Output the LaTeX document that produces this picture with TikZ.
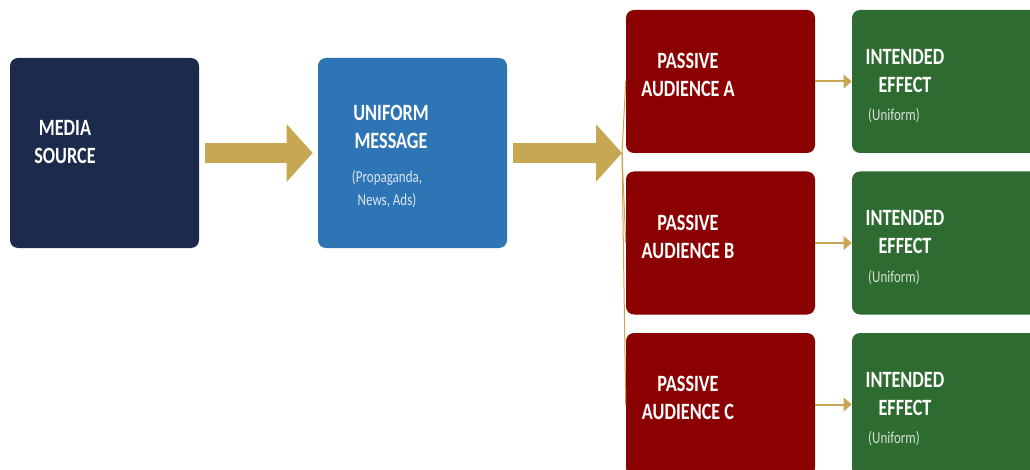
\documentclass[tikz,border=0pt]{standalone}
\usepackage{fontspec}
\usepackage{tikz}
\usetikzlibrary{arrows.meta,calc}
\newfontfamily\boxfont[FakeStretch=0.78]{Carlito}
\definecolor{navy}{RGB}{28,42,75}
\definecolor{msgblue}{RGB}{46,117,182}
\definecolor{audred}{RGB}{139,0,0}
\definecolor{effgreen}{RGB}{46,107,48}
\definecolor{gold}{RGB}{200,167,82}
\tikzset{
    box/.style={rounded corners=6pt, inner sep=0pt, minimum width=141.75pt},
    title/.style={text=white, align=center, font=\boxfont\bfseries\fontsize{17.5}{21}\selectfont},
    subtext/.style={align=center, font=\boxfont\fontsize{12.5}{17.25}\selectfont}
}

\begin{document}
\begin{tikzpicture}[x=0.75pt, y=-0.75pt]
    \useasboundingbox (0,0) rectangle (1030,470);
    \clip (0,0) rectangle (1030,470);
    % boxes
    \node[box, fill=navy, minimum height=142.5pt] (src) at (104.5,153) {};
    \node[box, fill=msgblue, minimum height=142.5pt] (msg) at (412.5,153) {};
    \node[box, fill=audred, minimum height=107.25pt] (audA) at (720.5,81.5) {};
    \node[box, fill=audred, minimum height=107.25pt] (audB) at (720.5,243) {};
    \node[box, fill=audred, minimum height=107.25pt] (audC) at (720.5,404.5) {};
    \node[box, fill=effgreen, minimum height=107.25pt] (effA) at (946.5,81.5) {};
    \node[box, fill=effgreen, minimum height=107.25pt] (effB) at (946.5,243) {};
    \node[box, fill=effgreen, minimum height=107.25pt] (effC) at (946.5,404.5) {};
    % labels
    \node[title] (srctxt) at (65,142) {MEDIA\\SOURCE};
    \node[title] (msgtxt) at (391,127) {UNIFORM\\MESSAGE};
    \node[subtext, text=white!82!msgblue] (msgsub) at (387,189.5) {(Propaganda,\\News, Ads)};
    \node[title] (audAtxt) at ($(audA.center)+(-32.5,-6.5)$) {PASSIVE\\AUDIENCE A};
    \node[title] (audBtxt) at ($(audB.center)+(-32.5,-6.5)$) {PASSIVE\\AUDIENCE B};
    \node[title] (audCtxt) at ($(audC.center)+(-32.5,-6.5)$) {PASSIVE\\AUDIENCE C};
    \node[title] (effAtxt) at ($(effA.center)+(-41.5,-10.5)$) {INTENDED\\EFFECT};
    \node[title] (effBtxt) at ($(effB.center)+(-41.5,-10.5)$) {INTENDED\\EFFECT};
    \node[title] (effCtxt) at ($(effC.center)+(-41.5,-10.5)$) {INTENDED\\EFFECT};
    \node[subtext, text=white!80!effgreen, anchor=west] (effAsub) at ($(effA.center)+(-83,34.5)$) {(Uniform)};
    \node[subtext, text=white!80!effgreen, anchor=west] (effBsub) at ($(effB.center)+(-83,34.5)$) {(Uniform)};
    \node[subtext, text=white!80!effgreen, anchor=west] (effCsub) at ($(effC.center)+(-83,34.5)$) {(Uniform)};
    % connectors
    \coordinate (fork) at (622,153);
    \draw[gold, line width=15pt, -{Triangle[width=42pt,length=19.5pt]}, shorten <=4.5pt, shorten >=3.75pt] (src.east) -- (msg.west);
    \draw[gold, line width=15pt, -{Triangle[width=42pt,length=19.5pt]}, shorten <=4.5pt] (msg.east) -- (fork);
    \draw[gold, line width=0.75pt] (fork) -- (audA.west);
    \draw[gold, line width=0.75pt] (fork) -- (audB.west);
    \draw[gold, line width=0.75pt] (fork) -- (audC.west);
    \draw[gold, line width=1.5pt, -{Triangle[width=10pt,length=6pt]}] (audA.east) -- (effA.west);
    \draw[gold, line width=1.5pt, -{Triangle[width=10pt,length=6pt]}] (audB.east) -- (effB.west);
    \draw[gold, line width=1.5pt, -{Triangle[width=10pt,length=6pt]}] (audC.east) -- (effC.west);
\end{tikzpicture}
\end{document}
